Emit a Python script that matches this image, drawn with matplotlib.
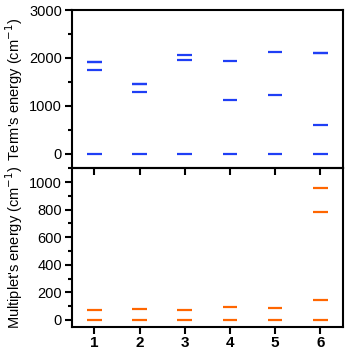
import numpy as np
import matplotlib
matplotlib.use("Agg")
import matplotlib.pyplot as plt
from matplotlib.ticker import MultipleLocator

plt.rcParams['font.family'] = ['Liberation Sans', 'DejaVu Sans']

# level energies for each compound (cm-1)
compounds = [1, 2, 3, 4, 5, 6]
term_levels = [
    [0, 1740, 1915, 1925],
    [0, 1290, 1450, 1458],
    [0, 1960, 2070],
    [0, 1130, 1930],
    [0, 1230, 2120],
    [0, 600, 2100, 2112],
]
multiplet_levels = [
    [0, 73],
    [0, 80],
    [0, 73],
    [0, 90],
    [0, 87],
    [0, 146, 780, 954],
]

term_color = '#1f3ff5'
mult_color = '#ff6600'
half_w = 0.16

fig = plt.figure(figsize=(3.46, 3.51), dpi=100)
ax1 = fig.add_axes([0.2072, 0.5205, 0.784, 0.451])
ax2 = fig.add_axes([0.2072, 0.0692, 0.784, 0.4513])
ax2.patch.set_alpha(0)  # let top panel's outward x ticks show through
ax1.set_zorder(2)
ax1.patch.set_alpha(0)

for x, levels in zip(compounds, term_levels):
    ax1.hlines(levels, x - half_w, x + half_w, color=term_color, lw=1.6)
for x, levels in zip(compounds, multiplet_levels):
    ax2.hlines(levels, x - half_w, x + half_w, color=mult_color, lw=1.6)

ax1.set_ylim(-300, 3000)
ax2.set_ylim(-50, 1100)
ax1.yaxis.set_major_locator(MultipleLocator(1000))
ax1.yaxis.set_minor_locator(MultipleLocator(500))
ax2.yaxis.set_major_locator(MultipleLocator(200))
ax2.yaxis.set_minor_locator(MultipleLocator(100))

for ax in (ax1, ax2):
    ax.set_xlim(0.5, 6.5)
    ax.set_xticks(compounds)
    for s in ax.spines.values():
        s.set_linewidth(1.5)
    ax.tick_params(axis='both', which='major', direction='out', length=5,
                   width=1.5, labelsize=10.5, pad=2)
    ax.tick_params(axis='y', which='minor', direction='out', length=3, width=1.5)

ax1.set_xticklabels([])
ax2.set_xticklabels([str(c) for c in compounds], fontweight='bold', fontsize=11)

ax1.set_ylabel("Term's energy (cm$^{-1}$)", fontsize=10.5, labelpad=3)
ax2.set_ylabel("Multiplet's energy (cm$^{-1}$)", fontsize=10.5, labelpad=3)

fig.savefig('out.png', dpi=100)
